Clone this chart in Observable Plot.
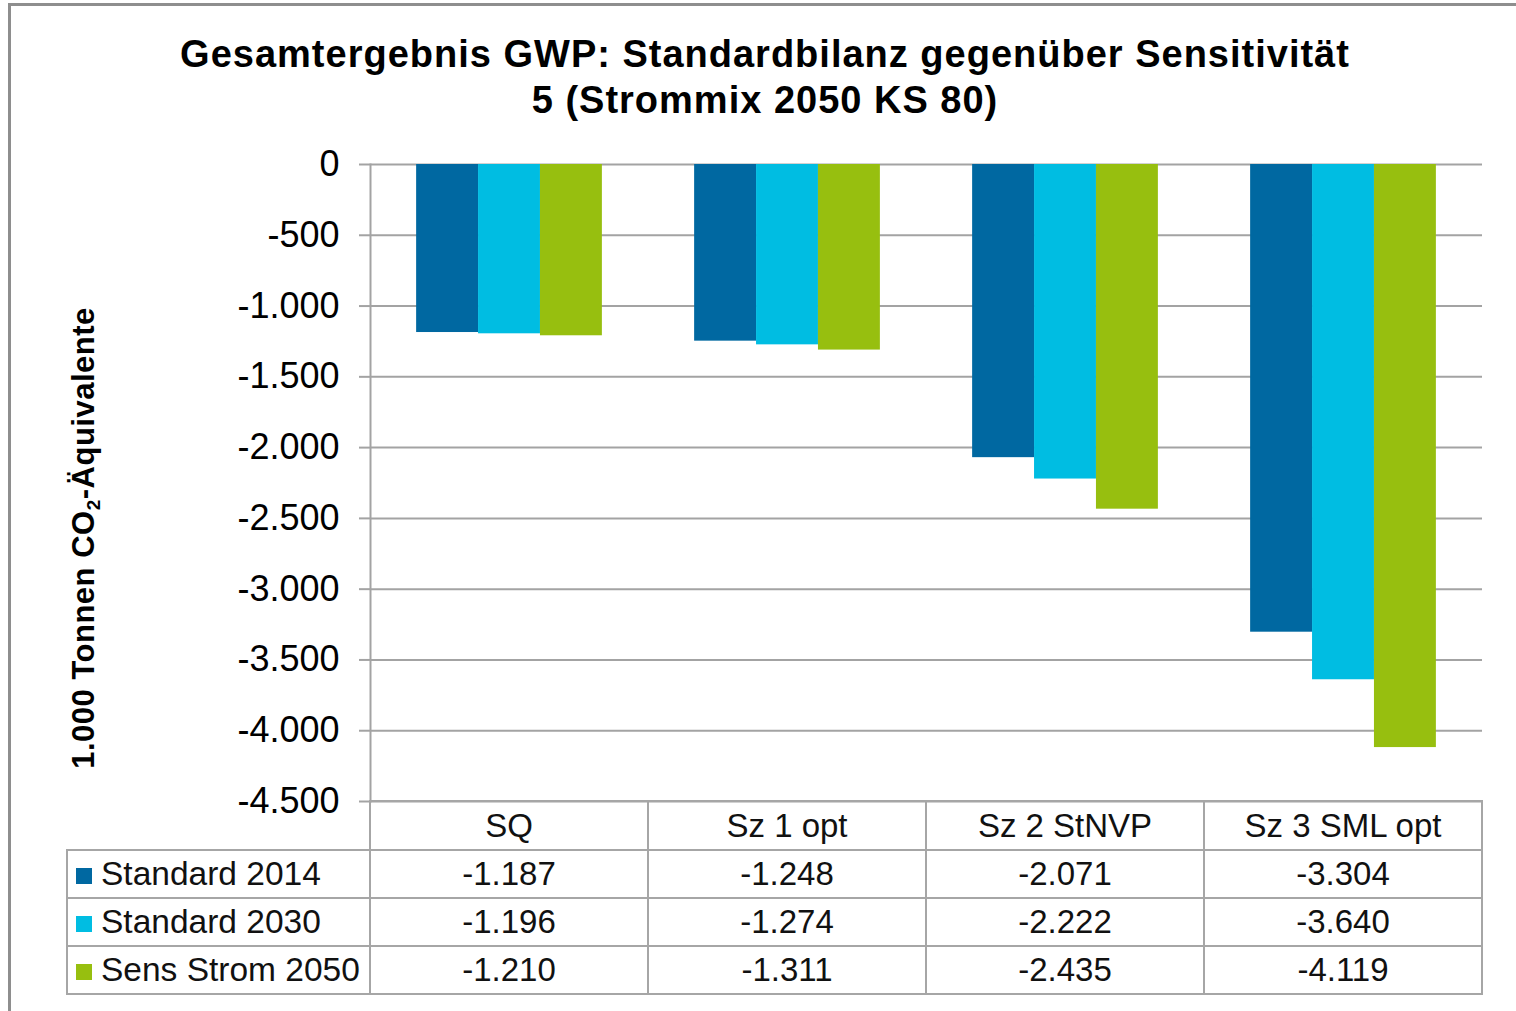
<!DOCTYPE html>
<html><head><meta charset="utf-8">
<script src="https://cdn.jsdelivr.net/npm/d3@7"></script>
<script src="https://cdn.jsdelivr.net/npm/@observablehq/plot@0.6"></script>
<style>
body{margin:0;background:#fff;}
#wrap{position:relative;width:1516px;height:1011px;overflow:hidden;font-family:"Liberation Sans",Arial,sans-serif;background:#fff;}
#frame{position:absolute;left:8px;top:3px;width:1600px;height:1100px;border-top:3px solid #8e8e8e;border-left:3px solid #8e8e8e;box-sizing:border-box;}
#title{position:absolute;left:0;width:1530px;top:31px;text-align:center;font-weight:bold;font-size:38px;letter-spacing:1px;line-height:46px;color:#000;}
#ylabel{position:absolute;left:85px;top:538px;transform:translate(-50%,-50%) rotate(-90deg);white-space:nowrap;font-weight:bold;font-size:31px;letter-spacing:0.5px;color:#000;}
#ylabel sub{font-size:19px;vertical-align:-6px;}
#chart{position:absolute;left:0;top:0;}
table.dt{position:absolute;border-collapse:collapse;font-size:33px;color:#111;table-layout:fixed;}
table.dt td{border:2px solid #a6a6a6;padding:0;text-align:center;white-space:nowrap;overflow:hidden;}
table.dt td.blank{border-top:none;border-left:none;}
table.dt td.name{text-align:left;padding-left:8px;font-size:33.5px;}
.sw{display:inline-block;width:16px;height:16px;margin-right:9px;vertical-align:1px;}
</style></head>
<body>
<div id="wrap">
  <div id="frame"></div>
  <div id="chart"></div>
  <div id="title">Gesamtergebnis GWP: Standardbilanz gegenüber Sensitivität<br>5 (Strommix 2050 KS 80)</div>
  <div id="ylabel">1.000 Tonnen CO<sub>2</sub>-Äquivalente</div>
</div>
<script>
const categories = ["SQ", "Sz 1 opt", "Sz 2 StNVP", "Sz 3 SML opt"];
const seriesNames = ["Standard 2014", "Standard 2030", "Sens Strom 2050"];
const standard2014 = [-1187, -1248, -2071, -3304];
const standard2030 = [-1196, -1274, -2222, -3640];
const sensStrom2050 = [-1210, -1311, -2435, -4119];
const seriesColors = ["#0068a1", "#00bde2", "#97bf0f"];
const yTicks = [0, -500, -1000, -1500, -2000, -2500, -3000, -3500, -4000, -4500];

const seriesValues = [standard2014, standard2030, sensStrom2050];
const data = seriesNames.flatMap((s, i) => categories.map((c, j) => ({cat: c, series: s, value: seriesValues[i][j]})));

const de = d3.formatLocale({decimal: ",", thousands: ".", grouping: [3], currency: ["", " €"], minus: "-"});
const fmt = de.format(",d");

const W = 1516, H = 1011;
const plot = Plot.plot({
  width: W, height: H,
  marginLeft: 369, marginRight: 33, marginTop: 164, marginBottom: 210,
  style: {fontFamily: "'Liberation Sans', Arial, sans-serif", fontSize: "36px", background: "transparent", overflow: "visible"},
  fx: {domain: categories, paddingInner: 0, paddingOuter: 0, axis: null, label: null},
  x: {domain: seriesNames, paddingInner: 0, paddingOuter: 0.745, axis: null, round: false},
  y: {domain: [-4500, 0], axis: null},
  color: {domain: seriesNames, range: seriesColors},
  marks: [
    Plot.gridY(yTicks, {stroke: "#a3a3a3", strokeOpacity: 1, strokeWidth: 2}),
    Plot.barY(data, {fx: "cat", x: "series", y: "value", fill: "series"}),
    Plot.frame({anchor: "left", facetAnchor: "left", stroke: "#a3a3a3", strokeWidth: 2}),
    Plot.axisY({ticks: yTicks, tickFormat: fmt, tickSize: 11, tickPadding: 20, stroke: "#a3a3a3", strokeWidth: 2, fill: "#000", fontSize: 36, label: null, anchor: "left"})
  ]
});
document.getElementById("chart").appendChild(plot);

// data table aligned to the facet scale
const fxS = plot.scale("fx");
const yS = plot.scale("y");
const bw = fxS.bandwidth;
const x0 = fxS.apply(categories[0]);
const tableLeft = 67;
const yBottom = yS.apply(-4500);
const table = document.createElement("table");
table.className = "dt";
table.style.left = (tableLeft - 1) + "px";
table.style.top = (yBottom - 1) + "px";
const cg = document.createElement("colgroup");
const c0 = document.createElement("col"); c0.style.width = (x0 - tableLeft) + "px"; cg.appendChild(c0);
categories.forEach(() => { const c = document.createElement("col"); c.style.width = bw + "px"; cg.appendChild(c); });
table.appendChild(cg);
const hr = table.insertRow();
hr.style.height = "49px";
const blank = hr.insertCell(); blank.className = "blank";
categories.forEach(c => { const td = hr.insertCell(); td.textContent = c; });
seriesNames.forEach((s, i) => {
  const tr = table.insertRow();
  tr.style.height = "48px";
  const n = tr.insertCell(); n.className = "name";
  const sw = document.createElement("span"); sw.className = "sw"; sw.style.background = seriesColors[i];
  n.appendChild(sw); n.appendChild(document.createTextNode(s));
  seriesValues[i].forEach(v => { const td = tr.insertCell(); td.textContent = fmt(v); });
});
document.getElementById("wrap").appendChild(table);
</script>
</body></html>
